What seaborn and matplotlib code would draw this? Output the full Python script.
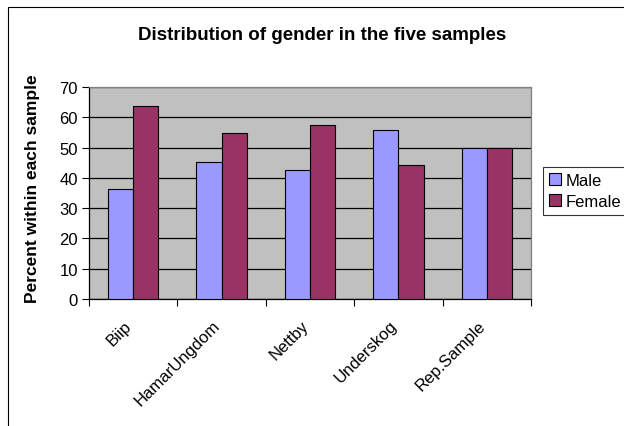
import matplotlib.pyplot as plt
import matplotlib.patches as mpatches
import matplotlib.transforms as mtransforms
import numpy as np
import pandas as pd
import seaborn as sns

samples = ['Biip', 'HamarUngdom', 'Nettby', 'Underskog', 'Rep.Sample']
male = [36.4, 45.2, 42.6, 55.7, 50.0]
female = [63.6, 54.8, 57.4, 44.3, 50.0]
genders = ['Male', 'Female']
colors = ['#9999FF', '#993366']

df = pd.DataFrame({
    'sample': samples * 2,
    'gender': ['Male'] * len(samples) + ['Female'] * len(samples),
    'percent': male + female,
})

sns.set_style('white', {'text.color': 'black', 'axes.labelcolor': 'black',
                        'xtick.color': 'black', 'ytick.color': 'black'})
plt.rcParams['font.family'] = ['Liberation Sans', 'DejaVu Sans']

fig = plt.figure(figsize=(6.24, 4.27), dpi=100)
ax = fig.add_axes([89/624, 1 - 300/427, 442/624, 212/427])
ax.set_facecolor('#C0C0C0')

sns.barplot(data=df, x='sample', y='percent', hue='gender', hue_order=genders,
            palette=colors, width=0.57, gap=0, edgecolor='black', linewidth=0.8,
            saturation=1, ax=ax, zorder=3)

ax.set_ylim(0, 70)
ax.set_xlim(-0.5, 4.5)
ax.set_yticks(np.arange(0, 71, 10))
ax.yaxis.grid(True, color='black', linewidth=0.9, zorder=0)
ax.set_axisbelow(True)
ax.tick_params(axis='y', labelsize=12, length=5, width=0.8, direction='out',
               left=True, pad=3)
ax.tick_params(axis='x', which='major', length=0, labelsize=12, pad=17)
ax.set_xticks(np.arange(-0.5, 5, 1), minor=True)
ax.tick_params(axis='x', which='minor', length=5, width=0.8, bottom=True)
shift = mtransforms.ScaledTranslation(-4/100, 0, fig.dpi_scale_trans)
for lab in ax.get_xticklabels():
    lab.set_rotation(45)
    lab.set_ha('right')
    lab.set_va('center')
    lab.set_rotation_mode('anchor')
    lab.set_transform(lab.get_transform() + shift)

for side in ['left', 'bottom']:
    ax.spines[side].set_color('black')
    ax.spines[side].set_linewidth(0.9)
for side in ['top', 'right']:
    ax.spines[side].set_color('#808080')
    ax.spines[side].set_linewidth(0.9)

ax.set_xlabel('')
ax.set_ylabel('Percent within each sample', fontsize=12.5, fontweight='bold')
ax.yaxis.set_label_coords(-(89 - 40) / 442, 0.5 + 5/212)
fig.text(0.5 + 10/624, 1 - 36/427, 'Distribution of gender in the five samples',
         ha='center', va='center', fontsize=13.5, fontweight='bold')

ax.legend_.remove()
handles = [mpatches.Patch(facecolor=c, edgecolor='black', linewidth=0.8) for c in colors]
leg = fig.legend(handles, genders, loc='upper left',
                 bbox_to_anchor=(543/624, 1 - 168/427), fontsize=12,
                 frameon=True, fancybox=False, handlelength=0.7, handleheight=0.7,
                 handletextpad=0.3, borderpad=0.35, labelspacing=0.35, borderaxespad=0)
leg.get_frame().set_edgecolor('black')
leg.get_frame().set_linewidth(0.8)

fig.patches.append(mpatches.Rectangle((8/624, -0.1), 1.2, 1.1 - 8/427,
                                      transform=fig.transFigure, fill=False,
                                      edgecolor='black', linewidth=0.8))

fig.savefig('out.png', dpi=100)
